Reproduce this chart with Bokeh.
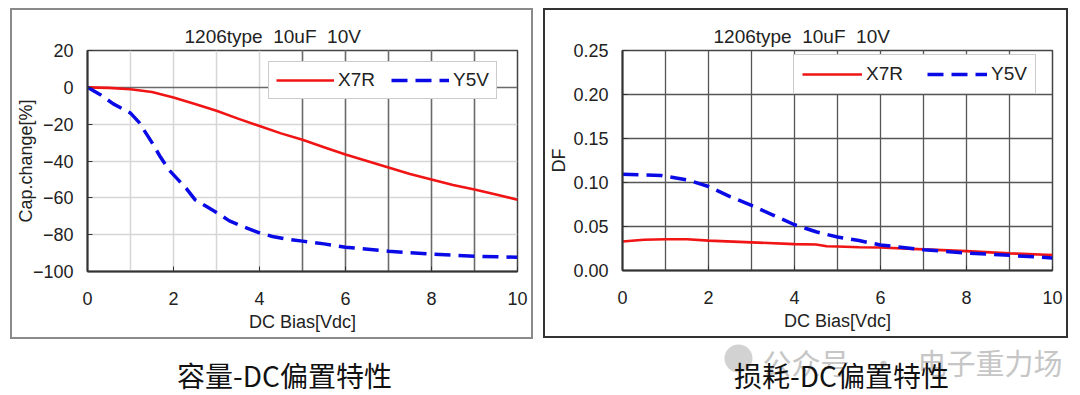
from bokeh.plotting import figure
from bokeh.models import (Range1d, Legend, LegendItem, Grid, FixedTicker,
                          PrintfTickFormatter, Spacer, Title)
from bokeh.layouts import row, column
from bokeh.core.properties import value
from bokeh.embed import file_html
from bokeh.resources import INLINE

# ---------------- data ----------------
NB = "\u00a0"
chart_title = "1206type" + NB * 2 + "10uF" + NB * 2 + "10V"
series_names = ["X7R", "Y5V"]
captions = ["容量-DC偏置特性", "损耗-DC偏置特性"]
watermark = "公众号" + NB * 3 + "·" + NB * 3 + "电子重力场"

x_ticks = [0, 2, 4, 6, 8, 10]
cap_ticks = [-100, -80, -60, -40, -20, 0, 20]
df_ticks = [0.0, 0.05, 0.10, 0.15, 0.20, 0.25]

cap_x7r_v = [0, 0.5, 1.0, 1.5, 2.0, 2.5, 3.0, 3.5, 4.0, 4.5, 5.0, 5.5, 6.0, 6.5,
             7.0, 7.5, 8.0, 8.5, 9.0, 9.5, 10.0]
cap_x7r = [0, -0.3, -1.0, -2.5, -5.5, -9.0, -12.7, -17.0, -21.0, -25.0, -28.5,
           -32.5, -36.5, -40.0, -43.5, -47.0, -50.0, -53.0, -55.5, -58.2, -61.0]

cap_y5v_v = [0, 0.3, 0.6, 1.0, 1.2, 1.5, 1.7, 1.9, 2.1, 2.3, 2.5, 2.75, 3.0, 3.3,
             3.6, 4.0, 4.3, 4.6, 5.0, 5.5, 6.0, 7.0, 8.0, 9.0, 10.0]
cap_y5v = [0, -4.0, -9.0, -14.0, -19.0, -30.0, -38.0, -45.0, -50.0, -55.0, -61.0,
           -64.5, -68.0, -72.5, -75.5, -79.0, -81.0, -82.3, -83.5, -85.0, -86.8,
           -89.0, -90.5, -91.7, -92.3]

df_x7r_v = [0, 0.5, 1.0, 1.5, 2.0, 3.0, 4.0, 4.5, 4.75, 5.0, 5.5, 6.0, 7.0, 8.0,
            9.0, 10.0]
df_x7r = [0.033, 0.0350, 0.0355, 0.0355, 0.0340, 0.0320, 0.0300, 0.0295, 0.0275,
          0.0273, 0.0265, 0.0262, 0.0240, 0.0220, 0.0195, 0.0176]

df_y5v_v = [0, 0.9, 1.5, 2.0, 2.5, 3.0, 3.5, 4.0, 4.5, 5.0, 5.5, 6.0, 7.0, 8.0,
            9.0, 10.0]
df_y5v = [0.1095, 0.108, 0.103, 0.0955, 0.084, 0.074, 0.063, 0.052, 0.044, 0.038,
          0.034, 0.029, 0.0236, 0.0199, 0.0172, 0.0142]

FONT = "Liberation Sans"
CJK = "Noto Sans CJK SC"
RED = "#f01414"
BLUE = "#0a0ae6"


def style_axes(p, ylabel, yticks, ystandoff, yfmt=None):
    for ax in (p.xaxis[0], p.yaxis[0]):
        ax.axis_line_color = "#333333"
        ax.axis_line_width = 2
        ax.major_tick_in = 5
        ax.major_tick_out = 0
        ax.minor_tick_in = 0
        ax.minor_tick_out = 0
        ax.major_tick_line_color = "#333333"
        ax.major_label_text_font = FONT
        ax.major_label_text_font_size = "18px"
        ax.major_label_text_color = "#222222"
        ax.axis_label_text_font = FONT
        ax.axis_label_text_font_size = "18px"
        ax.axis_label_text_font_style = "normal"
        ax.axis_label_text_color = "#222222"
    p.xaxis.ticker = FixedTicker(ticks=x_ticks)
    p.xaxis.major_label_standoff = 20
    p.xaxis.axis_label = "DC Bias[Vdc]"
    p.xaxis.axis_label_standoff = 4
    p.yaxis.ticker = FixedTicker(ticks=yticks)
    p.yaxis.major_label_standoff = 14
    p.yaxis.axis_label = ylabel
    p.yaxis.axis_label_standoff = ystandoff
    if yfmt:
        p.yaxis.formatter = PrintfTickFormatter(format=yfmt)
    p.outline_line_color = "#444444"
    p.outline_line_width = 1.5


def add_legend(p, renderers, loc, glyph_w, spacing, pad):
    leg = Legend(items=[LegendItem(label=n, renderers=[r]) for n, r in zip(series_names, renderers)],
                 orientation="horizontal", location=loc,
                 glyph_width=glyph_w, glyph_height=20, label_standoff=4, spacing=spacing,
                 padding=pad, margin=0, border_line_color="#999999", border_line_width=1.5,
                 label_text_font=FONT, label_text_font_size="19px", label_text_color="#222222",
                 label_height=20, background_fill_color="white", background_fill_alpha=1)
    p.add_layout(leg)


def add_title(p, offset):
    p.title = Title(text=chart_title, align="left", offset=offset, standoff=8,
                    text_font=FONT, text_font_size="19px", text_font_style="normal",
                    text_color="#222222")


# ---------------- left panel: capacitance change ----------------
p1 = figure(width=523, height=331, x_range=Range1d(0, 10), y_range=Range1d(-100, 20),
            output_backend="svg", toolbar_location=None,
            min_border_left=74, min_border_right=18, min_border_top=40, min_border_bottom=70)
style_axes(p1, "Cap.change[%]", cap_ticks, -6)
p1.xgrid.ticker = FixedTicker(ticks=list(range(1, 10)))
p1.xgrid.grid_line_color = "#d6d6d6"
p1.xgrid.grid_line_width = 1.5
p1.ygrid.ticker = FixedTicker(ticks=[-80, -60, -40, -20])
p1.ygrid.grid_line_color = "#d6d6d6"
p1.ygrid.grid_line_width = 1.5
p1.add_layout(Grid(dimension=0, ticker=FixedTicker(ticks=[5, 6, 7, 8, 9]),
                   grid_line_color="#6a6a6a", grid_line_width=1.5))
p1.add_layout(Grid(dimension=1, ticker=FixedTicker(ticks=[0]),
                   grid_line_color="#6a6a6a", grid_line_width=1.5))
add_title(p1, 97)
r1 = p1.line(cap_x7r_v, cap_x7r, line_color=RED, line_width=2.6)
r2 = p1.line(cap_y5v_v, cap_y5v, line_color=BLUE, line_width=3.5, line_dash="16 8")
add_legend(p1, [r1, r2], (181, 172), 58, 16, 7)
p1.styles = {"border": "2px solid #8a8a8a"}

# ---------------- right panel: dissipation factor ----------------
p2 = figure(width=525, height=330, x_range=Range1d(0, 10), y_range=Range1d(0, 0.25),
            output_backend="svg", toolbar_location=None,
            min_border_left=77, min_border_right=18, min_border_top=38, min_border_bottom=70)
style_axes(p2, "DF", df_ticks, 1, "%.2f")
p2.xgrid.ticker = FixedTicker(ticks=list(range(1, 10)))
p2.xgrid.grid_line_color = "#555555"
p2.xgrid.grid_line_width = 1.3
p2.ygrid.ticker = FixedTicker(ticks=[0.05, 0.10, 0.15, 0.20])
p2.ygrid.grid_line_color = "#555555"
p2.ygrid.grid_line_width = 1.3
add_title(p2, 91)
r3 = p2.line(df_x7r_v, df_x7r, line_color=RED, line_width=2.6)
r4 = p2.line(df_y5v_v, df_y5v, line_color=BLUE, line_width=3.5, line_dash="16 8")
add_legend(p2, [r3, r4], (171, 176), 60, 24, 8)
p2.styles = {"border": "2px solid #333333"}

# ---------------- captions strip ----------------
cap = figure(width=1064, height=56, x_range=Range1d(0, 1064), y_range=Range1d(395, 339),
             output_backend="svg", toolbar_location=None, x_axis_type=None, y_axis_type=None,
             min_border=0, min_border_left=0, min_border_right=0, min_border_top=0,
             min_border_bottom=0)
cap.grid.visible = False
cap.outline_line_color = None
cap.circle(x=[738], y=[358], radius=14, fill_color="#d2d2d2", line_color=None)
cap.text(x=[762], y=[361], text=[watermark], text_align="left", text_baseline="middle",
         text_font=value(CJK), text_font_size="29px", text_color="#c6c6c6")
cap.text(x=[284, 841], y=[374, 374], text=captions, text_align="center",
         text_baseline="middle", text_font=value(CJK),
         text_font_size="28px", text_color="#111111")

layout = column(Spacer(height=8),
                row(Spacer(width=10), p1, Spacer(width=10), p2),
                cap)
open("out.html", "w").write(file_html(layout, INLINE))
